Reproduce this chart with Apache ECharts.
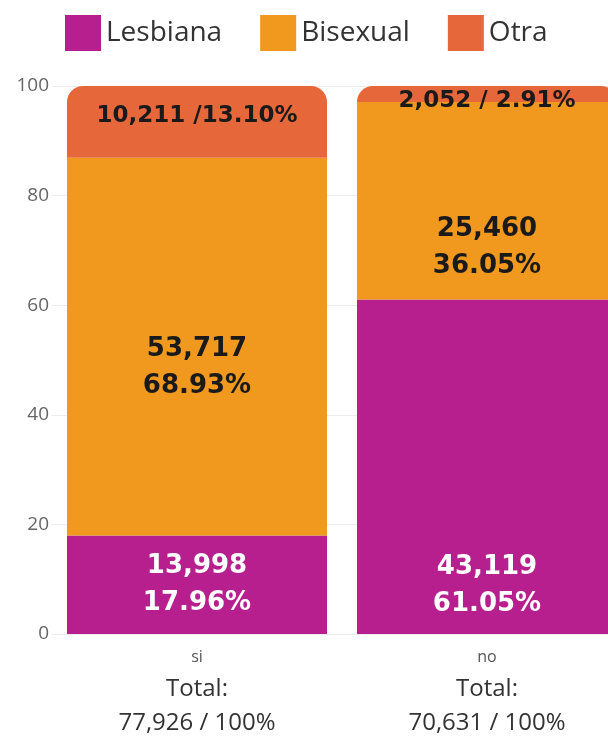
<!DOCTYPE html>
<html>
<head>
<meta charset="utf-8">
<script src="https://cdn.jsdelivr.net/npm/echarts@6/dist/echarts.min.js"></script>
<style>
html,body{margin:0;padding:0;background:#fff;overflow:hidden;width:608px;height:740px;}
#chart{width:640px;height:740px;}
</style>
</head>
<body>
<div id="chart"></div>
<script>
const categories = ['si', 'no'];
const totals = [77926, 70631];
const lesbianaPct = [17.96, 61.05];
const lesbianaCount = [13998, 43119];
const bisexualPct = [68.93, 36.05];
const bisexualCount = [53717, 25460];
const otraPct = [13.10, 2.91];
const otraCount = [10211, 2052];
const yTicks = [0, 20, 40, 60, 80, 100];

const fmt = n => n.toLocaleString('en-US');
const pct = v => v.toFixed(2) + '%';

const FONT = "'Open Sans', sans-serif";
const BOLD = "'DejaVu Sans', sans-serif";

// label placement tweaks (style, not data)
const lesOffsets = [[0, 0], [0, 119]];
const bisOffsets = [[0, 21], [0, 47]];
const otrOffsets = [[0, -6], [0, 7]];

function buildData(pcts, counts, offsets, twoLine, sep) {
  return pcts.map((v, i) => ({
    value: v,
    label: {
      offset: offsets[i],
      formatter: twoLine ? fmt(counts[i]) + '\n' + pct(v) : fmt(counts[i]) + sep[i] + pct(v)
    }
  }));
}

const baseLabel = {
  show: true,
  position: 'inside',
  fontFamily: BOLD,
  fontWeight: 'bold',
  fontSize: 26,
  lineHeight: 37
};

const chart = echarts.init(document.getElementById('chart'), null, {renderer: 'canvas'});
chart.setOption({
  animation: false,
  backgroundColor: '#fff',
  legend: {
    top: 10,
    left: 60,
    itemWidth: 36,
    itemHeight: 36,
    itemGap: 38,
    icon: 'rect',
    textStyle: {fontFamily: FONT, fontSize: 28, color: '#333', padding: [0, 0, 0, 0]},
    data: ['Lesbiana', 'Bisexual', 'Otra']
  },
  grid: {left: 52, top: 86, width: 580, bottom: 106, containLabel: false},
  xAxis: {
    type: 'category',
    data: categories,
    axisLine: {show: false},
    axisTick: {show: false},
    axisLabel: {
      margin: 8,
      formatter: (val, idx) => '{a|' + val + '}\n{b|Total:}\n{b|' + fmt(totals[idx]) + ' / 100%}',
      rich: {
        a: {fontFamily: FONT, fontSize: 16, color: '#555', lineHeight: 30},
        b: {fontFamily: FONT, fontSize: 24, color: '#333', lineHeight: 34}
      }
    }
  },
  yAxis: {
    type: 'value',
    min: yTicks[0],
    max: yTicks[yTicks.length - 1],
    interval: 20,
    axisLine: {show: false},
    axisTick: {show: false},
    axisLabel: {fontFamily: FONT, fontSize: 19, color: '#666', margin: 3},
    splitLine: {lineStyle: {color: '#ececec', width: 1}}
  },
  series: [
    {
      name: 'Lesbiana', type: 'bar', stack: 't', barWidth: 260,
      itemStyle: {color: '#b81f8e'},
      label: Object.assign({}, baseLabel, {color: '#fff'}),
      data: buildData(lesbianaPct, lesbianaCount, lesOffsets, true)
    },
    {
      name: 'Bisexual', type: 'bar', stack: 't', barWidth: 260,
      itemStyle: {color: '#f0991e'},
      label: Object.assign({}, baseLabel, {color: '#1a1a1a'}),
      data: buildData(bisexualPct, bisexualCount, bisOffsets, true)
    },
    {
      name: 'Otra', type: 'bar', stack: 't', barWidth: 260,
      itemStyle: {color: '#e5673a', borderRadius: [16, 16, 0, 0]},
      label: Object.assign({}, baseLabel, {color: '#1a1a1a', fontSize: 23}),
      data: buildData(otraPct, otraCount, otrOffsets, false, [' /', ' / '])
    }
  ]
});
</script>
</body>
</html>
